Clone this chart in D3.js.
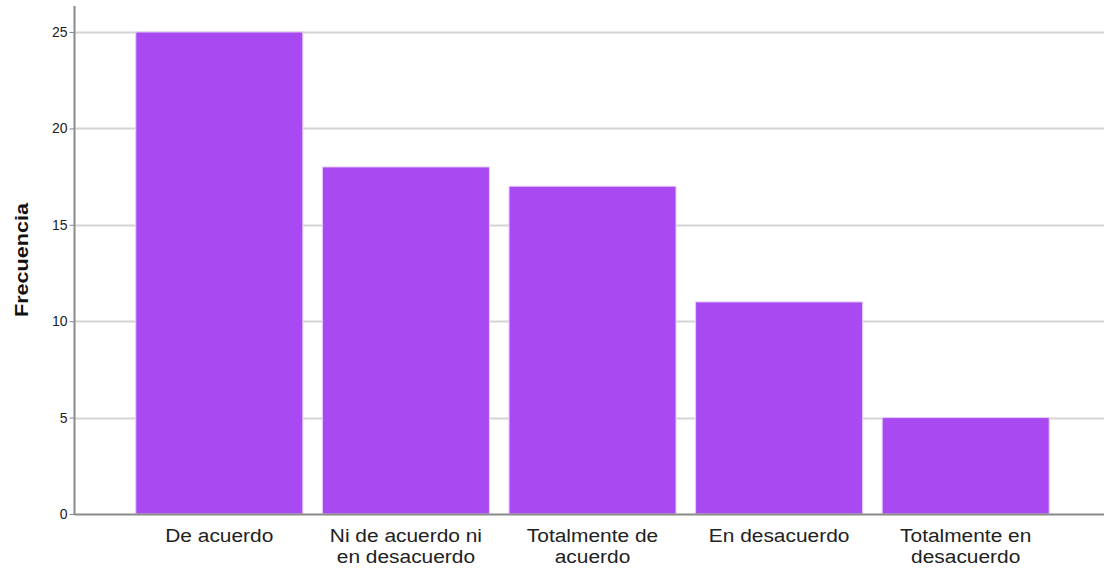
<!DOCTYPE html>
<html><head><meta charset="utf-8">
<script src="https://cdn.jsdelivr.net/npm/d3@7/dist/d3.min.js"></script>
<style>body{margin:0;background:#fff}svg{display:block}text{font-family:"Liberation Sans",Arial,sans-serif}</style>
</head><body>
<script>
const categories = ["De acuerdo","Ni de acuerdo ni en desacuerdo","Totalmente de acuerdo","En desacuerdo","Totalmente en desacuerdo"];
const labelLines = [["De acuerdo"],["Ni de acuerdo ni","en desacuerdo"],["Totalmente de","acuerdo"],["En desacuerdo"],["Totalmente en","desacuerdo"]];
const values = [25,18,17,11,5];
const yTicks = [0,5,10,15,20,25];
const yTitle = "Frecuencia";

const W=1104,H=570;
const svg=d3.select("body").append("svg").attr("width",W).attr("height",H);
const axisX=74.5, plotRight=1104, yBottom=514, yTopAxis=6;
const y=d3.scaleLinear().domain([0,25]).range([yBottom,32]);
const x=d3.scaleBand().domain(categories).range([126,1059]).paddingInner(0.105).paddingOuter(0.0525);

// gridlines
svg.append("g").selectAll("line").data(yTicks.filter(d=>d>0)).join("line")
  .attr("x1",axisX).attr("x2",plotRight).attr("y1",d=>Math.round(y(d))+0.5).attr("y2",d=>Math.round(y(d))+0.5)
  .attr("stroke","#d4d4d4").attr("stroke-width",2);

// bars
svg.append("g").selectAll("rect").data(values).join("rect")
  .attr("x",(d,i)=>x(categories[i])).attr("width",x.bandwidth())
  .attr("y",d=>y(d)).attr("height",d=>yBottom-y(d))
  .attr("fill","#a849f2").attr("stroke","#e6ccfb").attr("stroke-width",1);

// y axis
const ya=d3.axisLeft(y).tickValues(yTicks).tickSize(5).tickPadding(3);
const gy=svg.append("g").attr("transform",`translate(${axisX},0)`).call(ya);
gy.select(".domain").remove();
gy.selectAll(".tick line").attr("stroke","#8a8a8a");
gy.selectAll(".tick text").attr("font-size",14).attr("fill","#222").attr("font-family",'"Liberation Sans",Arial,sans-serif').attr("dx",1);
svg.append("line").attr("x1",axisX).attr("x2",axisX).attr("y1",yTopAxis).attr("y2",yBottom+1).attr("stroke","#8a8a8a").attr("stroke-width",2);
svg.append("line").attr("x1",axisX).attr("x2",plotRight).attr("y1",yBottom+0.5).attr("y2",yBottom+0.5).attr("stroke","#8a8a8a").attr("stroke-width",2);

// x labels
const gx=svg.append("g");
labelLines.forEach((lines,i)=>{
  const cx=x(categories[i])+x.bandwidth()/2;
  lines.forEach((l,j)=>gx.append("text").attr("text-anchor","middle").attr("font-size",19).attr("fill","#222")
    .attr("transform",`translate(${cx},${542+j*20.5}) scale(1.1,1)`).text(l));
});

// y title
svg.append("text").attr("transform","translate(28,260) rotate(-90) scale(1.2,1)").attr("text-anchor","middle")
  .attr("font-size",18).attr("font-weight","bold").attr("fill","#111").text(yTitle);
</script>
</body></html>
